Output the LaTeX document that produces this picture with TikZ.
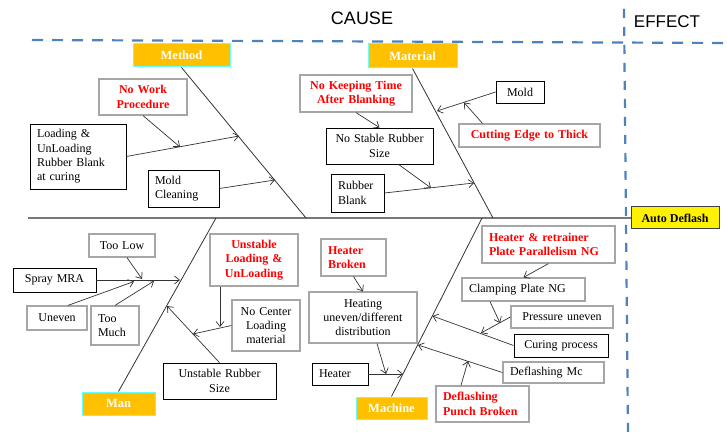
\documentclass[tikz,border=0pt]{standalone}
\usepackage{fontspec}
\setmainfont{Liberation Serif}
\newfontfamily\headfont{Liberation Sans}
\usepackage{tikz}
\usetikzlibrary{arrows.meta}

\definecolor{dashblue}{RGB}{79,129,189}
\definecolor{catorange}{RGB}{255,192,0}
\definecolor{catedge}{RGB}{102,255,255}
\definecolor{boxgray}{RGB}{166,166,166}
\definecolor{spinegray}{RGB}{120,120,120}

\begin{document}
\begin{tikzpicture}[x=1pt, y=-1pt, >={Straight Barb[length=5pt,width=8pt]},
    every node/.style={font=\fontsize{12}{14.4}\selectfont},
    cat/.style={fill=catorange, draw=catedge, line width=1pt, text=white, inner sep=0pt, font=\fontsize{12.5}{14.4}\selectfont\bfseries},
    effectbox/.style={fill=yellow, draw=black!75, line width=1pt, inner sep=0pt, font=\fontsize{12}{14.4}\selectfont\bfseries},
    box/.style={draw=black, line width=0.8pt, fill=white, inner xsep=4pt, inner ysep=0pt, align=center},
    graybox/.style={box, draw=boxgray, line width=1.2pt},
    lefttext/.style={align=left, inner xsep=7pt},
    redtxt/.style={text=red, font=\fontsize{12}{14.4}\selectfont\bfseries},
    bone/.style={draw=black!80, line width=0.8pt},
    spine/.style={draw=spinegray, line width=1.3pt},
    link/.style={->, draw=black!80, line width=0.7pt}
]
        % Define Variables
        \def\spine{218}
        \useasboundingbox (0,0) rectangle (727,435);

        % Overall Scheme
        \draw[dashblue, line width=2.2pt, dash pattern=on 11pt off 9pt] (32,40) -- (727,43);
        \draw[dashblue, line width=2.2pt, dash pattern=on 9pt off 9pt] (624,9) -- (628,435);
        \node[font=\headfont\fontsize{18}{20}\selectfont] at (362,18) (cause) {CAUSE};
        \node[font=\headfont\fontsize{17}{20}\selectfont] at (667,22) (effect) {EFFECT};
        \node[effectbox, minimum width=88pt, minimum height=22pt] at (675,\spine) (deflash) {Auto Deflash};
        \coordinate (tail) at (28,\spine);
        \draw[spine] (tail) -- (deflash.west);

        % Method
        \node[cat, minimum width=97pt, minimum height=23pt] at (181.5,55.5) (method) {Method};
        \coordinate (mspine) at (306,\spine);
        \draw[bone] (method.south) -- (mspine);
        \node[graybox, redtxt, text width=80pt, minimum height=36pt] at (143,97) (nowork) {No Work\\Procedure};
        \node[box, lefttext, text width=82pt, minimum height=65pt] at (78,156.5) (loading) {Loading \&\\UnLoading\\Rubber Blank\\at curing};
        \node[box, lefttext, text width=57pt, minimum height=37pt] at (183.5,188.5) (moldclean) {Mold\\Cleaning};
        \coordinate (m1) at (239,136);
        \coordinate (m1a) at (180,147);
        \coordinate (m2) at (275,180);
        \draw[link] (loading.east) -- (m1);
        \draw[link] (nowork.south) -- (m1a);
        \draw[link] (moldclean.east) -- (m2);

        % Material
        \node[cat, minimum width=89pt, minimum height=24pt] at (412.5,56) (material) {Material};
        \coordinate (tspine) at (493,\spine);
        \draw[bone] (material.south) -- (tspine);
        \node[graybox, redtxt, text width=104pt, minimum height=37pt] at (356,93.5) (nokeep) {No Keeping Time\\After Blanking};
        \node[box, text width=99pt, minimum height=36pt] at (379.5,146) (nostable) {No Stable Rubber\\Size};
        \node[box, lefttext, text width=39pt, minimum height=38pt] at (357.5,193) (rubber) {Rubber\\Blank};
        \node[box, text width=40pt, minimum height=22pt] at (520,92) (mold) {Mold};
        \node[graybox, redtxt, text width=133pt, minimum height=23pt] at (529.5,135.5) (cutting) {Cutting Edge to Thick};
        \coordinate (t1) at (474,183);
        \coordinate (t1a) at (431,188);
        \coordinate (t2) at (437,111);
        \coordinate (t2a) at (464,102.5);
        \draw[link] (nokeep.south) -- (nostable.north);
        \draw[link] (rubber.east) -- (t1);
        \draw[link] ([xshift=19pt]nostable.south) -- (t1a);
        \draw[link] (mold.west) -- (t2);
        \draw[link] ([xshift=-47pt]cutting.north) -- (t2a);

        % Man
        \node[cat, minimum width=73pt, minimum height=23pt] at (118.5,403.5) (man) {Man};
        \coordinate (nspine) at (216,\spine);
        \draw[bone] (man.north) -- (nspine);
        \node[graybox, text width=58pt, minimum height=23pt] at (122,245.5) (toolow) {Too Low};
        \node[box, text width=75pt, minimum height=24pt] at (54.5,280) (spray) {Spray MRA};
        \node[graybox, text width=52pt, minimum height=24pt] at (57,318) (uneven) {Uneven};
        \node[graybox, lefttext, text width=34pt, minimum height=39pt] at (115,325.5) (toomuch) {Too\\Much};
        \node[graybox, redtxt, text width=80pt, minimum height=52pt] at (254,260) (unstablelu) {Unstable\\Loading \&\\UnLoading};
        \node[graybox, text width=60pt, minimum height=51pt] at (266,325.5) (nocenter) {No Center\\Loading\\material};
        \node[box, text width=105pt, minimum height=36pt] at (219.5,381) (unstablers) {Unstable Rubber\\Size};
        \coordinate (n1) at (180,280);
        \coordinate (n1a) at (142,279);
        \coordinate (n1b) at (134,281.5);
        \coordinate (n1c) at (154,281);
        \coordinate (n2) at (167,306);
        \coordinate (n2a) at (193,334);
        \coordinate (n2b) at (220,327);
        \draw[link] (spray.east) -- (n1);
        \draw[link] ([xshift=5pt]toolow.south) -- (n1a);
        \draw[link] ([xshift=11pt]uneven.north) -- (n1b);
        \draw[link] (toomuch.north) -- (n1c);
        \draw[link] (unstablers.north) -- (n2);
        \draw[link] (nocenter.west) -- (n2a);
        \draw[link] ([xshift=-34pt]unstablelu.south) -- (n2b);

        % Machine
        \node[cat, minimum width=71pt, minimum height=22pt] at (391.5,408) (machine) {Machine};
        \coordinate (cspine) at (482,\spine);
        \draw[bone] (machine.north) -- (cspine);
        \node[graybox, redtxt, lefttext, text width=51pt, minimum height=37pt] at (353.5,257.5) (heaterbroken) {Heater\\Broken};
        \node[graybox, text width=100pt, minimum height=51pt] at (363,317.5) (heating) {Heating\\uneven/different\\distribution};
        \node[box, lefttext, text width=42pt, minimum height=22pt] at (340,374) (heater) {Heater};
        \node[graybox, redtxt, lefttext, text width=119pt, minimum height=37pt] at (548.5,244.5) (retrainer) {Heater \& retrainer\\Plate Parallelism NG};
        \node[graybox, lefttext, text width=109pt, minimum height=23pt] at (523.5,289.5) (clamping) {Clamping Plate NG};
        \node[graybox, text width=94pt, minimum height=22pt] at (562,317) (pressure) {Pressure uneven};
        \node[box, line width=1pt, text width=86pt, minimum height=23pt] at (561,345.5) (curing) {Curing process};
        \node[graybox, lefttext, text width=87pt, minimum height=21pt] at (553.5,372.5) (deflashmc) {Deflashing Mc};
        \node[graybox, redtxt, lefttext, text width=79pt, minimum height=36pt] at (482.5,404) (deflashpunch) {Deflashing\\Punch Broken};
        \coordinate (c1) at (403,374);
        \coordinate (c1b) at (386,374);
        \coordinate (c2) at (432.5,316);
        \coordinate (c2a) at (481,333);
        \coordinate (c2b) at (500,323);
        \coordinate (c3) at (418,345);
        \coordinate (c3a) at (468,361);
        \draw[link] (heaterbroken.south) -- (heating.north);
        \draw[link] (heater.east) -- (c1);
        \draw[link] ([xshift=14pt]heating.south) -- (c1b);
        \draw[link] (retrainer.south) -- (clamping.north);
        \draw[link] (curing.west) -- (c2);
        \draw[link] (pressure.west) -- (c2a);
        \draw[link] ([xshift=-33.5pt]clamping.south) -- (c2b);
        \draw[link] (deflashmc.west) -- (c3);
        \draw[link] ([xshift=-21.5pt]deflashpunch.north) -- (c3a);

    \end{tikzpicture}
\end{document}
